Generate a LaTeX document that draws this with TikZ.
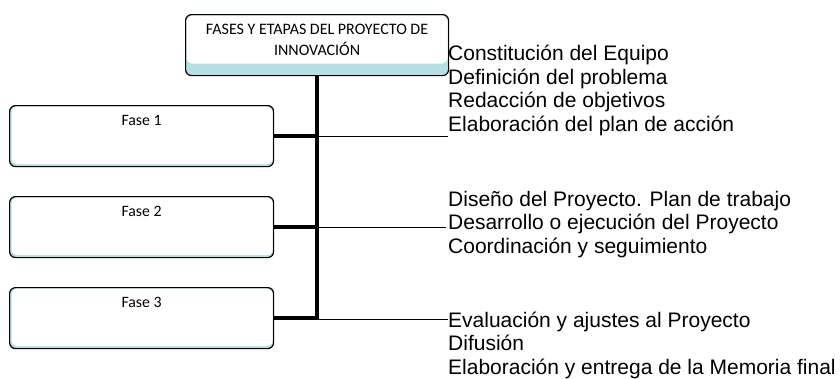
\documentclass[tikz,border=0pt]{standalone}
\usepackage{fontspec}
\setmainfont{Liberation Sans}
\newfontfamily\boxfont{Carlito}
\usetikzlibrary{positioning, calc}
\definecolor{bandblue}{RGB}{183,222,228}

\begin{document}
\begin{tikzpicture}[x=1pt, y=-1pt,
  headbox/.style={
    rectangle, rounded corners=6pt, draw=black, line width=1.2pt,
    fill=bandblue, anchor=north west, inner sep=0pt,
    minimum width=263pt, text height=41pt, text depth=20pt,
    align=center, font=\boxfont\fontsize{16pt}{21pt}\selectfont,
    path picture={\fill[white] ($(path picture bounding box.north west)+(1pt,-1pt)$)
      rectangle ($(path picture bounding box.south east)+(-1pt,12pt)$);}
  },
  fasebox/.style={
    rectangle, rounded corners=6pt, draw=black, line width=1.2pt,
    fill=bandblue, anchor=north west, inner sep=0pt,
    minimum width=264pt, text height=20pt, text depth=41pt,
    font=\boxfont\fontsize{15.8pt}{18pt}\selectfont,
    path picture={\fill[white] ($(path picture bounding box.north west)+(2pt,-1pt)$)
      rectangle ($(path picture bounding box.south east)+(-1pt,2.5pt)$);}
  },
  etapas/.style={
    anchor=base west, inner sep=0pt, align=left,
    font=\fontsize{21pt}{23.5pt}\selectfont
  },
  tronco/.style={line width=4.6pt, miter limit=10},
  rama/.style={line width=1pt}
]
\useasboundingbox (0,0) rectangle (840,378);

% Title
\node[headbox] (titulo) at (185,14) {FASES Y ETAPAS DEL PROYECTO DE\\INNOVACIÓN};

% Phases
\node[fasebox] (fase1) at (9,105) {Fase 1};
\node[fasebox] (fase2) at (9,196) {Fase 2};
\node[fasebox] (fase3) at (9,287) {Fase 3};

% Stages (anchored on the last line)
\node[etapas] (etapas1) at (448,131) {Constitución del Equipo\\Definición del problema\\Redacción de objetivos\\Elaboración del plan de acción};
\node[etapas] (etapas2) at (448,253) {Diseño del Proyecto. Plan de trabajo\\Desarrollo o ejecución del Proyecto\\Coordinación y seguimiento};
\node[etapas] (etapas3) at (448,374) {Evaluación y ajustes al Proyecto\\Difusión\\Elaboración y entrega de la Memoria final};

\coordinate (fin1) at (448,136);
\coordinate (fin2) at (446,227);
\coordinate (fin3) at (448,319);

% Trunk and branches
\draw[tronco] (titulo.south) -- (fase3.east -| titulo.south) -- (fase3.east);
\draw[tronco] (fase1.east) -- (fase1.east -| titulo.south);
\draw[tronco] (fase2.east) -- (fase2.east -| titulo.south);

% Thin lines to the stages
\draw[rama] (fin1 -| titulo.south) -- (fin1);
\draw[rama] (fin2 -| titulo.south) -- (fin2);
\draw[rama] (fin3 -| titulo.south) -- (fin3);

\end{tikzpicture}
\end{document}
